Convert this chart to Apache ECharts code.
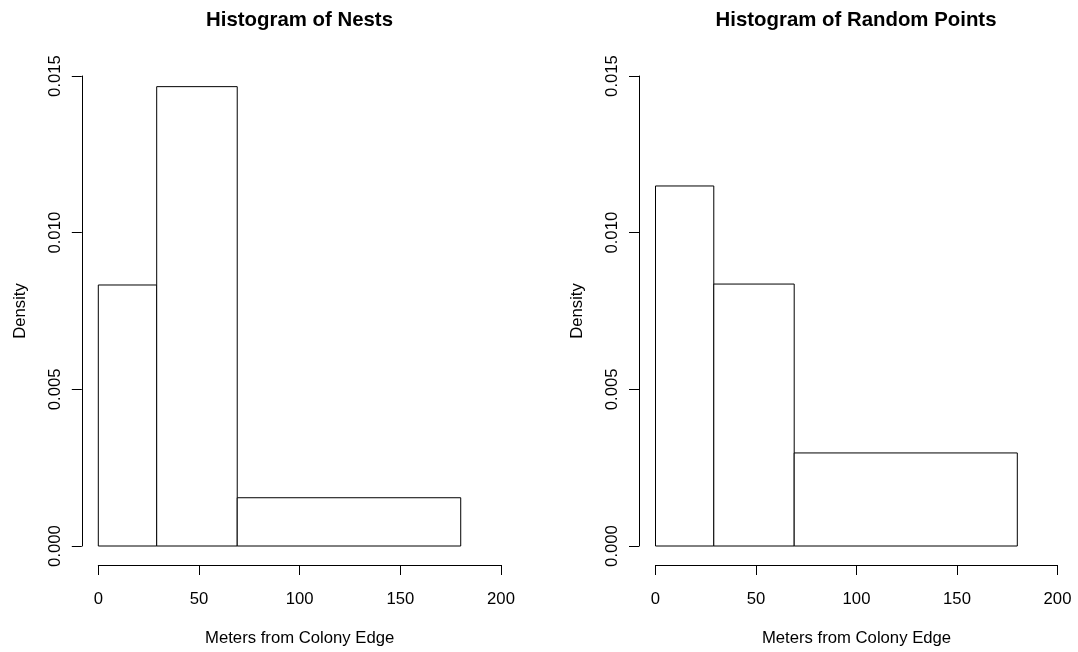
<!DOCTYPE html>
<html>
<head>
<meta charset="utf-8">
<script src="https://cdn.jsdelivr.net/npm/echarts@6/dist/echarts.min.js"></script>
<style>html,body{margin:0;padding:0;background:#fff;}#c{width:1078px;height:652px;}</style>
</head>
<body>
<div id="c"></div>
<script>
const breaks = [0, 29, 69, 180];
const nestsDensity = [0.00833, 0.01466, 0.00154];
const randomDensity = [0.01149, 0.00836, 0.00297];
const xTicks = [0, 50, 100, 150, 200];
const yTicks = [0, 0.005, 0.010, 0.015];
const titles = ['Histogram of Nests', 'Histogram of Random Points'];
const xName = 'Meters from Colony Edge';
const yName = 'Density';

const FONT = 'Liberation Sans, Arial, sans-serif';
const FS = 16.7;

function binData(dens) {
  return dens.map((d, i) => [breaks[i], breaks[i + 1], d]);
}

function renderItem(params, api) {
  const p0 = api.coord([api.value(0), api.value(2)]);
  const p1 = api.coord([api.value(1), 0]);
  return {
    type: 'rect',
    shape: { x: p0[0], y: p0[1], width: p1[0] - p0[0], height: p1[1] - p0[1] },
    style: { fill: '#fff', stroke: '#000', lineWidth: 1 }
  };
}

const grids = [
  { left: 98.3, right: 577, top: 76, bottom: 105.5 },
  { left: 655.5, right: 20.5, top: 76, bottom: 105.5 }
];

function xAxis(i) {
  return {
    type: 'value', gridIndex: i,
    min: xTicks[0], max: xTicks[xTicks.length - 1], interval: 50,
    offset: 19,
    name: xName, nameLocation: 'middle', nameGap: 65,
    nameTextStyle: { fontFamily: FONT, fontSize: FS, color: '#000' },
    axisLine: { show: true, onZero: false, lineStyle: { color: '#000', width: 1 } },
    axisTick: { show: true, length: 10, inside: false, lineStyle: { color: '#000', width: 1 } },
    axisLabel: { fontFamily: FONT, fontSize: FS, color: '#000', margin: 26, showMinLabel: true, showMaxLabel: true },
    splitLine: { show: false }
  };
}

function yAxis(i) {
  return {
    type: 'value', gridIndex: i,
    min: yTicks[0], max: yTicks[yTicks.length - 1], interval: 0.005,
    offset: 16.5,
    name: yName, nameLocation: 'middle', nameGap: 53,
    nameTextStyle: { fontFamily: FONT, fontSize: FS, color: '#000' },
    axisLine: { show: true, onZero: false, lineStyle: { color: '#000', width: 1 } },
    axisTick: { show: true, length: 10, lineStyle: { color: '#000', width: 1 } },
    axisLabel: { fontFamily: FONT, fontSize: FS, color: '#000', margin: 18, rotate: 90,
      formatter: v => v.toFixed(3), showMinLabel: true, showMaxLabel: true },
    splitLine: { show: false }
  };
}

const chart = echarts.init(document.getElementById('c'), null, { renderer: 'canvas' });
chart.setOption({
  backgroundColor: '#fff',
  animation: false,
  grid: grids,
  xAxis: [xAxis(0), xAxis(1)],
  yAxis: [yAxis(0), yAxis(1)],
  graphic: [
    { type: 'text', x: 299.5, y: 20, style: { text: titles[0], font: 'bold 20.4px ' + FONT, textAlign: 'center', textVerticalAlign: 'middle', fill: '#000' } },
    { type: 'text', x: 856, y: 20, style: { text: titles[1], font: 'bold 20.4px ' + FONT, textAlign: 'center', textVerticalAlign: 'middle', fill: '#000' } }
  ],
  series: [
    { type: 'custom', xAxisIndex: 0, yAxisIndex: 0, renderItem, data: binData(nestsDensity), encode: { x: [0, 1], y: 2 } },
    { type: 'custom', xAxisIndex: 1, yAxisIndex: 1, renderItem, data: binData(randomDensity), encode: { x: [0, 1], y: 2 } }
  ]
});
</script>
</body>
</html>
